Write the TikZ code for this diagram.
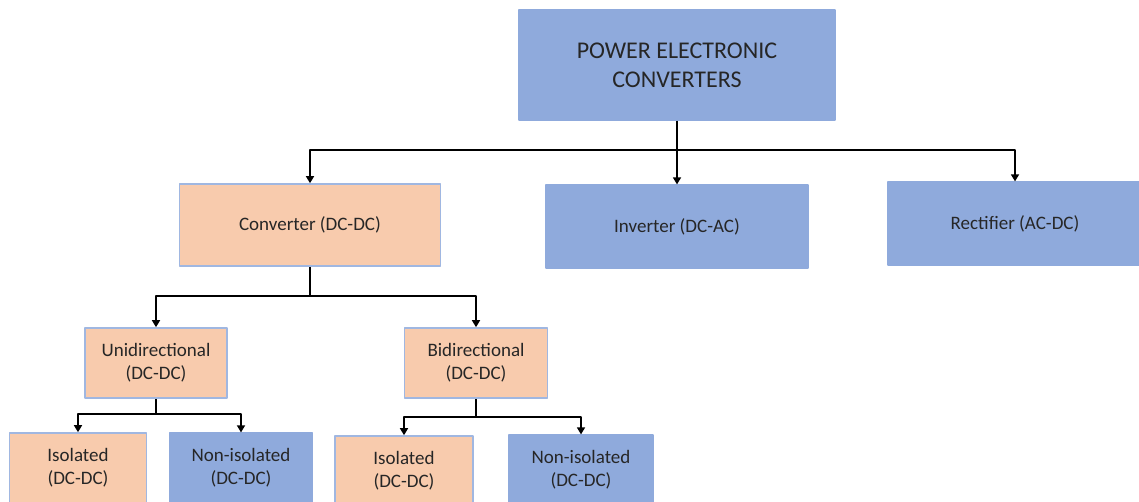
\documentclass[tikz,border=0pt]{standalone}
\usepackage{fontspec}
\setmainfont{Carlito}
\usetikzlibrary{arrows.meta}
\definecolor{boxblue}{HTML}{8FAADC}
\definecolor{boxorange}{HTML}{F8CBAD}
\begin{document}
\begin{tikzpicture}[x=1pt, y=-1pt, line join=round, line width=1.5pt,
		>={Triangle[width=8pt,length=7pt]},
		box/.style={inner sep=0pt, align=center, text=black!85,
			font=\fontsize{19}{23}\selectfont},
		bluebox/.style={box, fill=boxblue, draw=boxblue, line width=1.2pt},
		orangebox/.style={box, fill=boxorange, draw=boxblue!85, line width=1.6pt}]
	\useasboundingbox[fill=white] (0,0) rectangle (1139,502);
	% level 0
	\node[bluebox, minimum width=316pt, minimum height=110pt,
		font=\fontsize{24}{29}\selectfont] (top) at (677,65) {POWER ELECTRONIC\\CONVERTERS};
	% level 1
	\node[orangebox, minimum width=261pt, minimum height=82pt] (conv) at (310,225) {Converter (DC-DC)};
	\node[bluebox, minimum width=262pt, minimum height=83pt] (inv) at (677,226.5) {Inverter (DC-AC)};
	\node[bluebox, minimum width=254pt, minimum height=83pt] (rect) at (1015,223.5) {Rectifier (AC-DC)};
	% level 2
	\node[orangebox, minimum width=142pt, minimum height=70pt] (uni) at (156,363) {Unidirectional\\(DC-DC)};
	\node[orangebox, minimum width=143pt, minimum height=70pt] (bi) at (476,363) {Bidirectional\\(DC-DC)};
	% level 3
	\node[orangebox, minimum width=137pt, minimum height=70pt] (iso1) at (78,468) {Isolated\\(DC-DC)};
	\node[bluebox, minimum width=143pt, minimum height=70pt] (noniso1) at (241,468) {Non-isolated\\(DC-DC)};
	\node[orangebox, minimum width=138pt, minimum height=70pt] (iso2) at (404,471) {Isolated\\(DC-DC)};
	\node[bluebox, minimum width=144pt, minimum height=70pt] (noniso2) at (581,470) {Non-isolated\\(DC-DC)};
	% buses
	\coordinate (topbus) at (677,150);
	\coordinate (convbus) at (310,296);
	\coordinate (unibus) at (156,414);
	\coordinate (bibus) at (476,417);
	\draw (top.south) -- (topbus);
	\draw[->] (topbus) -| (conv.north);
	\draw[->] (topbus) -- (inv.north);
	\draw[->] (topbus) -| (rect.north);
	\draw (conv.south) -- (convbus);
	\draw[->] (convbus) -| (uni.north);
	\draw[->] (convbus) -| (bi.north);
	\draw (uni.south) -- (unibus);
	\draw[->] (unibus) -| (iso1.north);
	\draw[->] (unibus) -| (noniso1.north);
	\draw (bi.south) -- (bibus);
	\draw[->] (bibus) -| (iso2.north);
	\draw[->] (bibus) -| (noniso2.north);
\end{tikzpicture}
\end{document}
